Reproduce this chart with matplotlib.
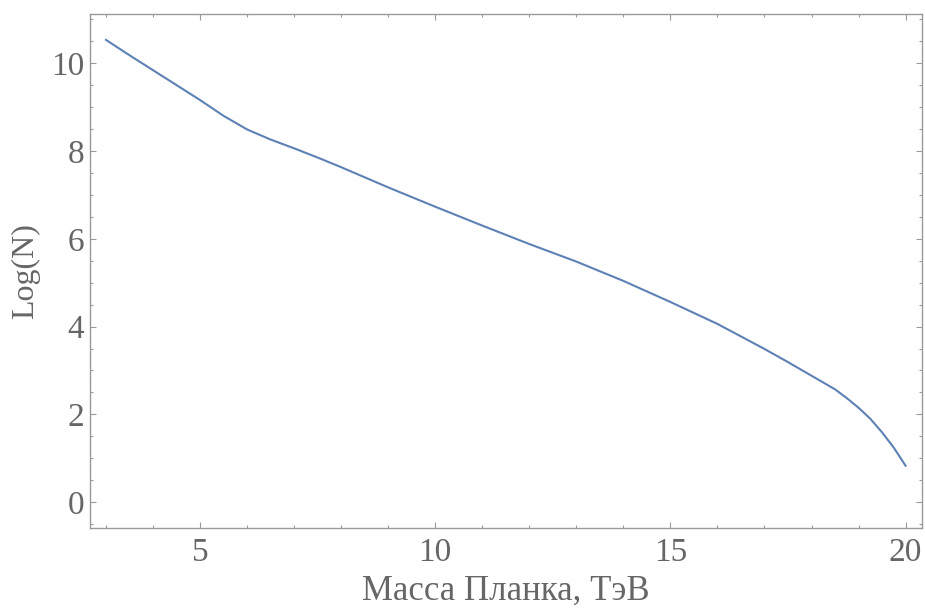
import numpy as np
import matplotlib
matplotlib.use("Agg")
import matplotlib.pyplot as plt
from matplotlib.ticker import MultipleLocator

# Planck mass (TeV) vs log of the number of events
planck_mass = [3, 3.5, 4, 4.5, 5, 5.5, 6, 6.5, 7, 7.5, 8, 9, 10, 11, 12,
               13, 14, 15, 16, 17, 17.5, 18, 18.5, 18.75, 19, 19.25,
               19.5, 19.75, 20]
log_n = [10.53, 10.18, 9.84, 9.50, 9.16, 8.80, 8.49, 8.26, 8.06, 7.85,
         7.63, 7.17, 6.73, 6.30, 5.88, 5.48, 5.04, 4.56, 4.06, 3.49,
         3.19, 2.88, 2.57, 2.37, 2.15, 1.90, 1.59, 1.24, 0.83]

x_label = "Масса Планка, ТэВ"
y_label = "Log(N)"

frame_color = "#9a9a9a"
text_color = "#666666"
line_color = "#5e81b5"

plt.rcParams['font.family'] = ['Liberation Serif', 'DejaVu Serif']

fig = plt.figure(figsize=(9.25, 6.14), dpi=100)
ax = fig.add_axes([0.0973, 0.1407, 0.8995, 0.8365])

ax.plot(planck_mass, log_n, color=line_color, lw=1.5)

ax.set_xlim(2.66, 20.35)
ax.set_ylim(-0.58, 11.12)

ax.xaxis.set_major_locator(MultipleLocator(5))
ax.xaxis.set_minor_locator(MultipleLocator(1))
ax.yaxis.set_major_locator(MultipleLocator(2))
ax.yaxis.set_minor_locator(MultipleLocator(0.5))

for side in ax.spines.values():
    side.set_color(frame_color)
    side.set_linewidth(1.0)

ax.tick_params(which='both', direction='in', top=True, right=True,
               color=frame_color, width=0.8, labelcolor=text_color,
               labelsize=24)
ax.tick_params(which='major', length=4.5)
ax.tick_params(which='minor', length=2.2)
ax.tick_params(axis='x', which='major', pad=7)
ax.tick_params(axis='y', which='major', pad=4)

ax.set_xlabel(x_label, fontsize=25, color=text_color, labelpad=5)
ax.set_ylabel(y_label, fontsize=23, color=text_color, labelpad=8)

fig.savefig("out.png", dpi=100)
